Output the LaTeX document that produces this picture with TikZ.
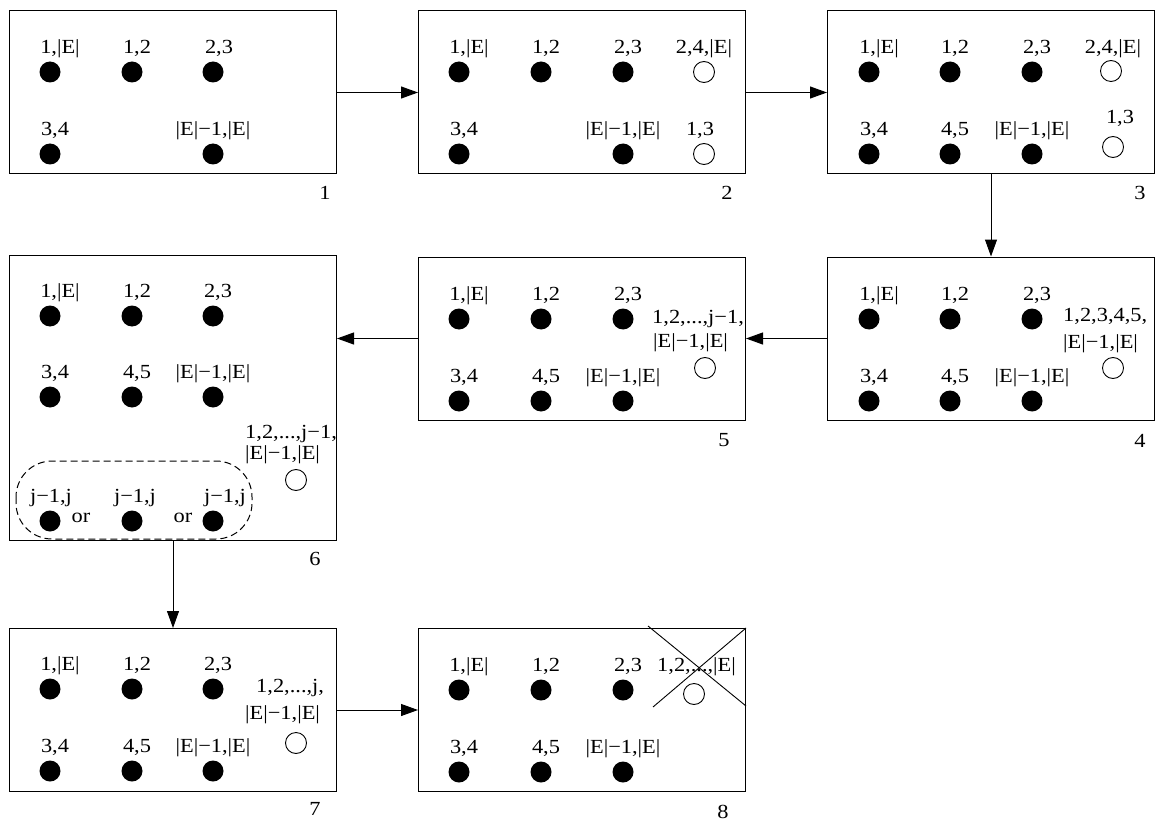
\documentclass[tikz,border=0pt]{standalone}
\usepackage{fontspec}
\setmainfont{Liberation Serif}[FakeStretch=1.12]
\usetikzlibrary{arrows.meta}

\newcommand{\labfont}{\fontsize{20}{24}\selectfont}

\begin{document}
\begin{tikzpicture}[x=1pt,y=-1pt,
    every node/.style={font=\labfont},
    panel/.style={draw, line width=1pt, minimum width=327pt, minimum height=163pt, inner sep=0pt},
    fdot/.style={circle, fill, inner sep=0pt, minimum size=21pt},
    odot/.style={circle, draw, line width=0.9pt, inner sep=0pt, minimum size=21pt},
    lab/.style={anchor=base, inner sep=0pt},
    labw/.style={anchor=base west, inner sep=0pt},
    arr/.style={line width=1pt, -{Triangle[length=17pt,width=12pt]}}]
\useasboundingbox (0,0) rectangle (1159,821);

% the eight states
\node[panel] (box1) at (173,92.5) {};
\node[panel] (box2) at (582,92.5) {};
\node[panel] (box3) at (991,92.5) {};
\node[panel] (box4) at (991,338.5) {};
\node[panel] (box5) at (582,338.5) {};
\node[panel, minimum height=285pt] (box6) at (173,397.5) {};
\node[panel] (box7) at (173,710) {};
\node[panel] (box8) at (582,710) {};

\node[lab] (n1) at (325,200) {1};
\node[lab] (n2) at (727,200) {2};
\node[lab] (n3) at (1140,200) {3};
\node[lab] (n4) at (1140,447) {4};
\node[lab] (n5) at (724,446) {5};
\node[lab] (n6) at (315,565) {6};
\node[lab] (n7) at (315,815) {7};
\node[lab] (n8) at (723,818) {8};

% box 1
\foreach \i/\x/\y/\dx/\t in {a/50/72/10/{1,|E|}, b/132/72/5/{1,2}, c/213/72/6/{2,3},
    d/50/154/5/{3,4}, f/213/154/0/{|E|−1,|E|}}
  {\node[fdot] (p1\i) at (\x,\y) {};
   \node[lab] (t1\i) at (\x+\dx,\y-18.5) {\t};}

% box 2
\foreach \i/\x/\y/\dx/\t in {a/459/72/10/{1,|E|}, b/541/72/5/{1,2}, c/623/72/5/{2,3},
    d/459/154/5/{3,4}, f/623/154/0/{|E|−1,|E|}}
  {\node[fdot] (p2\i) at (\x,\y) {};
   \node[lab] (t2\i) at (\x+\dx,\y-18.5) {\t};}
\node[odot] (o2a) at (704,72) {};
\node[lab] (s2a) at (704,53.5) {2,4,|E|};
\node[odot] (o2b) at (704,154) {};
\node[lab] (s2b) at (700,135.5) {1,3};

% box 3
\foreach \i/\x/\y/\dx/\t in {a/869/72/10/{1,|E|}, b/950/72/5/{1,2}, c/1032/72/5/{2,3},
    d/869/154/5/{3,4}, e/950/154/5/{4,5}, f/1032/154/0/{|E|−1,|E|}}
  {\node[fdot] (p3\i) at (\x,\y) {};
   \node[lab] (t3\i) at (\x+\dx,\y-18.5) {\t};}
\node[odot] (o3a) at (1111,71) {};
\node[lab] (s3a) at (1113,53.5) {2,4,|E|};
\node[odot] (o3b) at (1113,147) {};
\node[lab] (s3b) at (1120,124) {1,3};

% box 4
\foreach \i/\x/\y/\dx/\t in {a/869/319/10/{1,|E|}, b/950/319/5/{1,2}, c/1032/319/5/{2,3},
    d/869/401/5/{3,4}, e/950/401/5/{4,5}, f/1032/401/0/{|E|−1,|E|}}
  {\node[fdot] (p4\i) at (\x,\y) {};
   \node[lab] (t4\i) at (\x+\dx,\y-18.5) {\t};}
\node[odot] (o4) at (1113,368) {};
\node[labw] (s4a) at (1063,321) {1,2,3,4,5,};
\node[labw] (s4b) at (1063,348) {|E|−1,|E|};

% box 5
\foreach \i/\x/\y/\dx/\t in {a/459/319/10/{1,|E|}, b/541/319/5/{1,2}, c/623/319/5/{2,3},
    d/459/401/5/{3,4}, e/541/401/5/{4,5}, f/623/401/0/{|E|−1,|E|}}
  {\node[fdot] (p5\i) at (\x,\y) {};
   \node[lab] (t5\i) at (\x+\dx,\y-18.5) {\t};}
\node[odot] (o5) at (705,368) {};
\node[labw] (s5a) at (652,323) {1,2,...,j−1,};
\node[labw] (s5b) at (653,347) {|E|−1,|E|};

% box 6
\foreach \i/\x/\y/\dx/\t in {a/50/316/10/{1,|E|}, b/132/316/5/{1,2}, c/213/316/5/{2,3},
    d/50/397/5/{3,4}, e/132/397/5/{4,5}, f/213/397/0/{|E|−1,|E|},
    g/50/521/1/{j−1,j}, h/132/521/3/{j−1,j}, k/213/521/12/{j−1,j}}
  {\node[fdot] (p6\i) at (\x,\y) {};
   \node[lab] (t6\i) at (\x+\dx,\y-18.5) {\t};}
\node[lab] (or1) at (81,522) {or};
\node[lab] (or2) at (183,522) {or};
\draw[dash pattern=on 7pt off 4pt, line width=1pt, rounded corners=36pt] (16,461) rectangle (252,539);
\node[odot] (o6) at (296,480) {};
\node[labw] (s6a) at (245,438) {1,2,...,j−1,};
\node[labw] (s6b) at (245,459) {|E|−1,|E|};

% box 7
\foreach \i/\x/\y/\dx/\t in {a/50/689/10/{1,|E|}, b/132/689/5/{1,2}, c/213/689/5/{2,3},
    d/50/771/5/{3,4}, e/132/771/5/{4,5}, f/213/771/0/{|E|−1,|E|}}
  {\node[fdot] (p7\i) at (\x,\y) {};
   \node[lab] (t7\i) at (\x+\dx,\y-18.5) {\t};}
\node[odot] (o7) at (296,743) {};
\node[labw] (s7a) at (256,692) {1,2,...,j,};
\node[labw] (s7b) at (245,719) {|E|−1,|E|};

% box 8
\foreach \i/\x/\y/\dx/\t in {a/459/690/10/{1,|E|}, b/541/690/5/{1,2}, c/623/690/5/{2,3},
    d/459/772/5/{3,4}, e/541/772/5/{4,5}, f/623/772/0/{|E|−1,|E|}}
  {\node[fdot] (p8\i) at (\x,\y) {};
   \node[lab] (t8\i) at (\x+\dx,\y-18.5) {\t};}
\node[odot] (o8) at (694,694) {};
\node[labw] (s8) at (657,671) {1,2,...,|E|};
\draw[line width=0.9pt] (648,626) -- (746,706);
\draw[line width=0.9pt] (653,707) -- (746,628);

% transitions
\draw[arr] (box1) -- (box2);
\draw[arr] (box2) -- (box3);
\draw[arr] (box3) -- (box4);
\draw[arr] (box4) -- (box5);
\draw[arr] (box5.west) -- (box5.west -| box6.east);
\draw[arr] (box6) -- (box7);
\draw[arr] (box7) -- (box8);
\end{tikzpicture}
\end{document}
